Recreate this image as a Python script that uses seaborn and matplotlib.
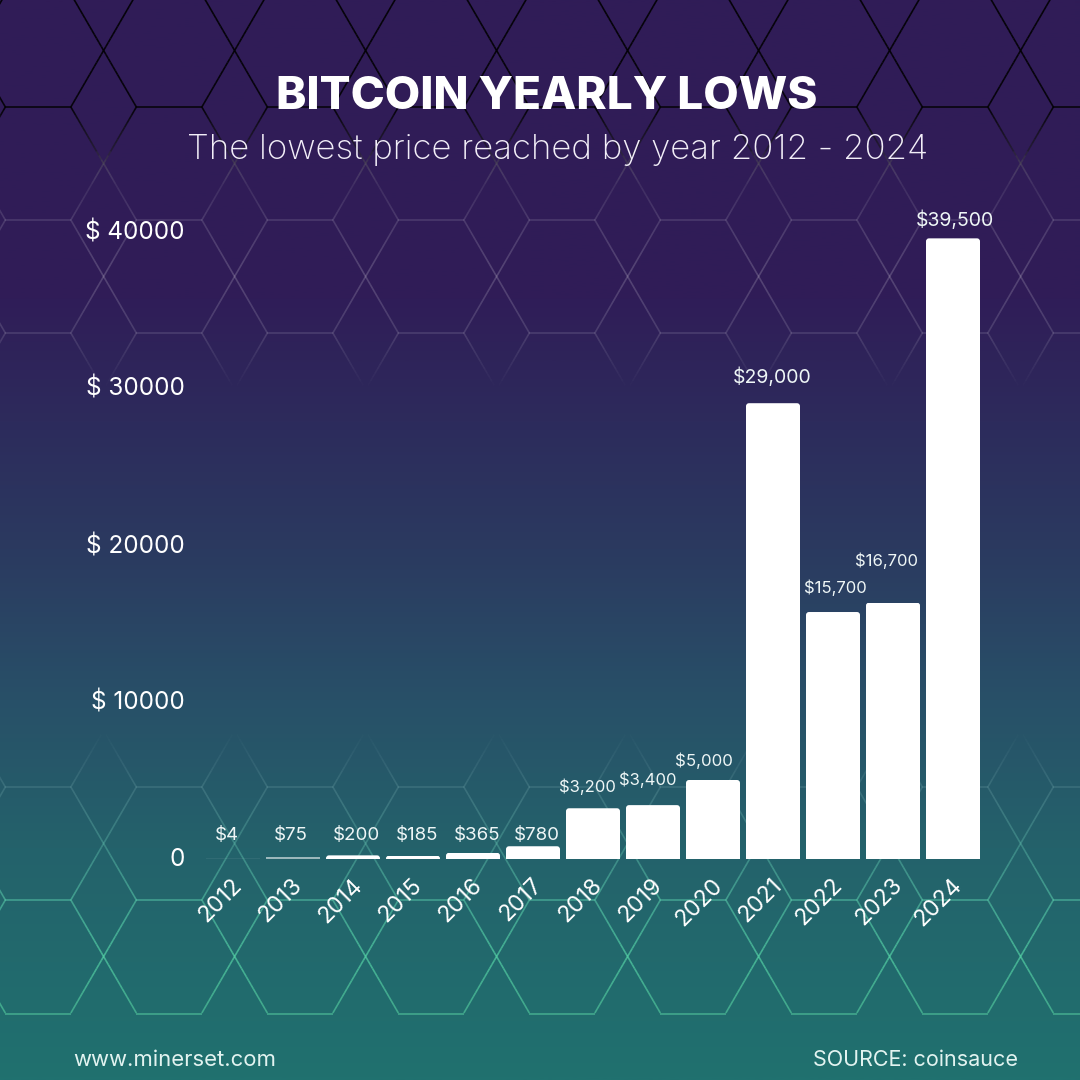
import numpy as np
import matplotlib
matplotlib.use("Agg")
import matplotlib.pyplot as plt
from matplotlib.collections import LineCollection
from matplotlib.colors import LinearSegmentedColormap
from matplotlib.patches import FancyBboxPatch
from matplotlib.transforms import IdentityTransform, ScaledTranslation
import seaborn as sns

# ---------- data ----------
years = ["2012", "2013", "2014", "2015", "2016", "2017", "2018",
         "2019", "2020", "2021", "2022", "2023", "2024"]
lows = [4, 75, 200, 185, 365, 780, 3200, 3400, 5000, 29000, 15700, 16300, 39500]
value_labels = ["$4", "$75", "$200", "$185", "$365", "$780", "$3,200", "$3,400",
                "$5,000", "$29,000", "$15,700", "$16,700", "$39,500"]
y_ticks = [0, 10000, 20000, 30000, 40000]
y_tick_labels = ["0", "$ 10000", "$ 20000", "$ 30000", "$ 40000"]

# ---------- layout (pixels) ----------
W = 1080
label_dx = [-6, -2, 3, 4, 4, 4, -6, -5, -9, -1, 2, -7, 2]
label_dy = [23, 21.9, 20, 20.2, 17.4, 10.9, 21.9, 25.6, 19.6, 25.6, 24.6, 41.6, 18]
label_size = [13.5, 13.5, 13.5, 13.5, 13.5, 13.5, 12, 12, 12.2, 14, 12, 12, 14]
FONT = "Inter"

sns.set_theme(style="white")
plt.rcParams["font.family"] = [FONT, "DejaVu Sans"]

fig = plt.figure(figsize=(W / 100, W / 100), dpi=100)

# ---------- background ----------
bg = fig.add_axes([0, 0, 1, 1], zorder=0)
bg.set_xlim(0, W)
bg.set_ylim(W, 0)
bg.axis("off")
stops = [(0, "#301c57"), (300 / W, "#301d58"), (420 / W, "#2d2b5c"), (550 / W, "#2b3a60"),
         (700 / W, "#285068"), (850 / W, "#24626b"), (1, "#20716f")]
cmap = LinearSegmentedColormap.from_list("bg", stops)
bg.imshow(np.linspace(0, 1, 512)[:, None], cmap=cmap, aspect="auto",
          extent=[0, W, W, 0], vmin=0, vmax=1)

# hexagon line pattern
COLS = [103.6 + 131 * k for k in range(-1, 8)]
HW, HH = 32.75, 56.5
segs = []
def add_x(yc, up=True, down=True):
    for cx in COLS:
        for sx in (-1, 1):
            if up:
                segs.append(((cx, yc), (cx + sx * HW, yc - HH)))
            if down:
                segs.append(((cx, yc), (cx + sx * HW, yc + HH)))
def add_h(y):
    for cx in COLS:
        segs.append(((cx + HW, y), (cx + 131 - HW, y)))

for yc in (50.5, 163.5, 276.5):
    add_x(yc)
add_x(389.5, down=False)
for y in (107, 220, 333):
    add_h(y)
add_x(730.5, up=False)
for yc in (843.5, 956.5):
    add_x(yc)
for y in (787, 900, 1013.5):
    add_h(y)

y_s = [0, 110, 150, 185, 220, 276, 333, 389, 730, 787, 844, 900, 957, 1014]
r_s = [0, 0, .1, .8, 1, 1, 1, 1, .6, .6, .45, .38, .36, .36]
g_s = [0, 0, .1, .8, 1, 1, 1, 1, .75, .8, .85, .85, .88, .85]
b_s = [0, 0, .1, .8, 1, 1, 1, 1, .8, .8, .75, .7, .68, .65]
a_s = [.9, .85, .55, .1, .13, .18, .13, 0, 0, .18, .3, .5, .62, .55]
pieces, colors = [], []
for (x0, y0), (x1, y1) in segs:
    n = max(int(abs(y1 - y0) / 4), 1)
    ts = np.linspace(0, 1, n + 1)
    for a, b in zip(ts[:-1], ts[1:]):
        ya, yb = y0 + a * (y1 - y0), y0 + b * (y1 - y0)
        pieces.append([(x0 + a * (x1 - x0), ya), (x0 + b * (x1 - x0), yb)])
        ym = (ya + yb) / 2
        colors.append((np.interp(ym, y_s, r_s), np.interp(ym, y_s, g_s),
                       np.interp(ym, y_s, b_s), np.interp(ym, y_s, a_s)))
bg.add_collection(LineCollection(pieces, colors=colors, linewidths=1.2, capstyle="butt"))

# ---------- chart ----------
AX_L, AX_R, AX_BASE, PX_PER = 203, 983, 858.5, 157 / 10000
YMAX = 42000
ax_h = YMAX * PX_PER
ax = fig.add_axes([AX_L / W, (W - AX_BASE) / W, (AX_R - AX_L) / W, ax_h / W], zorder=1)
ax.patch.set_alpha(0)
sns.barplot(x=years, y=lows, color="white", saturation=1, width=0.9, ax=ax)
ax.set_xlim(-0.5, 12.5)
ax.set_ylim(0, YMAX)
sns.despine(ax=ax, left=True, bottom=True)
ax.set_yticks(y_ticks)
ax.set_yticklabels(y_tick_labels, color="white", fontsize=17.5)
ax.tick_params(axis="y", length=0, pad=13)
ax.tick_params(axis="x", length=0, pad=17)
ax.set_xticks(range(len(years)))
ax.set_xticklabels(years, color="white", fontsize=16.5, rotation=45, ha="right",
                   rotation_mode="anchor", va="center")
for t in ax.get_xticklabels():
    t.set_transform(t.get_transform() + ScaledTranslation(6 / 100, 0, fig.dpi_scale_trans))
for t in ax.get_yticklabels():
    t.set_transform(t.get_transform() + ScaledTranslation(0, 1 / 100, fig.dpi_scale_trans))
ax.set_xlabel("")
ax.set_ylabel("")
ax.grid(False)

fig.canvas.draw()
# round only the upper corners of each bar
for p in ax.patches:
    p.set_linewidth(0)
    bb = p.get_window_extent()
    if bb.height < 1:
        p.set_snap(False)
    elif bb.height < 2:
        p.set_alpha(0.55)
    else:
        clip = FancyBboxPatch((bb.x0, bb.y0 - 8), bb.width, bb.height + 8,
                              boxstyle="round,pad=0,rounding_size=3",
                              transform=IdentityTransform())
        p.set_clip_path(clip)

# value labels
for i, (val, txt) in enumerate(zip(lows, value_labels)):
    ax.annotate(txt, xy=(i, val), xytext=(label_dx[i] * 0.72, label_dy[i] * 0.72),
                textcoords="offset points", ha="center", va="center",
                color="#eef6f6", fontsize=label_size[i])

# ---------- titles ----------
def ftext(x, y, s, **kw):
    fig.text(x / W, 1 - y / W, s, va="center", zorder=3, **kw)

ftext(546.5, 97, "BITCOIN YEARLY LOWS", ha="center", color="white", fontsize=33, fontweight="heavy")
ftext(558, 150, "The lowest price reached by year 2012 - 2024", ha="center",
      color="#f2eef8", fontsize=25.1, fontweight="light")
ftext(73.5, 1060, "www.minerset.com", ha="left", color="#e2f3f0", fontsize=15.9)
ftext(1018, 1060, "SOURCE: coinsauce", ha="right", color="#e2f3f0", fontsize=15.5)

fig.savefig("out.png", dpi=100, facecolor="#2b3a60")
